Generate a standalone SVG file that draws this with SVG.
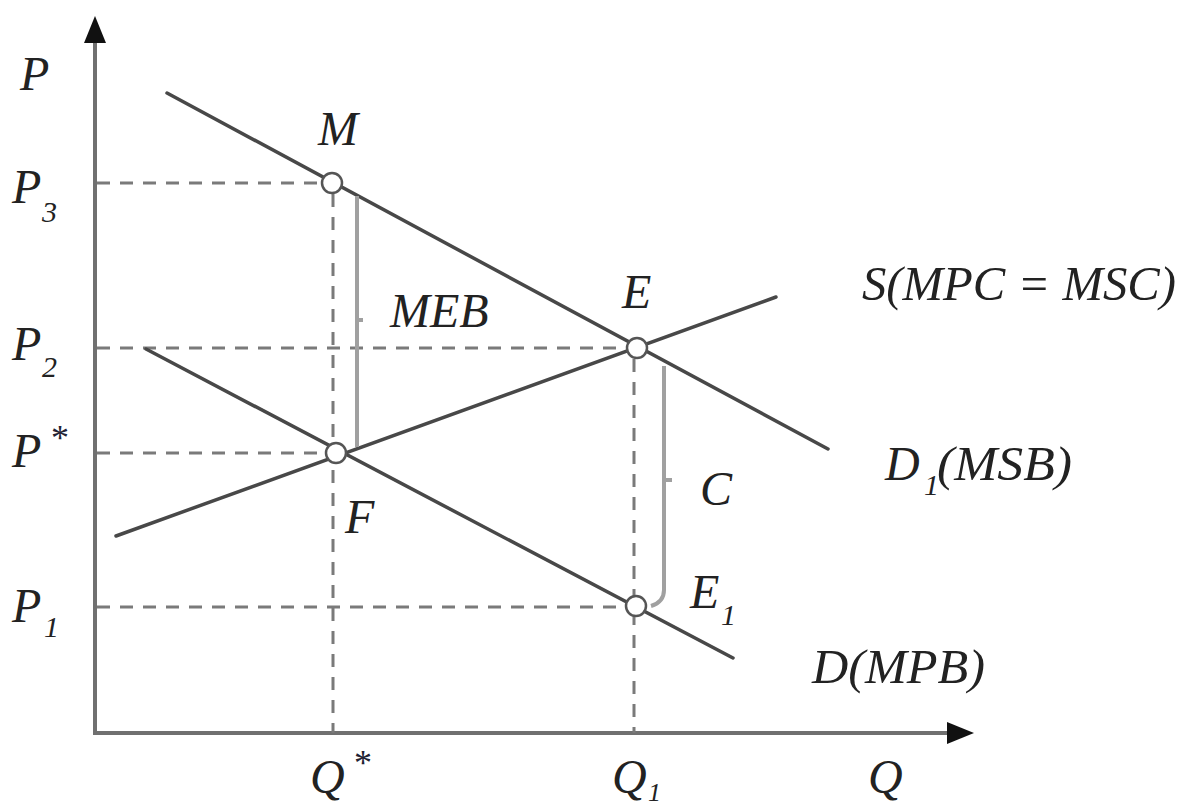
<svg xmlns="http://www.w3.org/2000/svg" width="1183" height="807" viewBox="0 0 1183 807">
<style>
  text { font-family: "Liberation Serif", "DejaVu Serif", serif; font-style: italic; fill: #222; }
  .lbl { font-size: 48px; }
  .sub { font-size: 30px; }
  .star { font-size: 36px; font-style: normal; fill: #223; text-anchor: middle; }
  .axis { stroke: #707070; stroke-width: 4; fill: none; }
  .curve { stroke: #484848; stroke-width: 3.5; fill: none; stroke-linecap: round; }
  .dash { stroke: #7a7a7a; stroke-width: 3; fill: none; stroke-dasharray: 13 10; }
  .brace { stroke: #a0a0a0; stroke-width: 4; fill: none; }
  .pt { fill: #fff; stroke: #555; stroke-width: 2.5; }
  .arrow { fill: #111; }
</style>
<rect width="1183" height="807" fill="#fff"/>

<g id="axes">
  <line class="axis" x1="95" y1="38" x2="95" y2="733"/>
  <polygon class="arrow" points="95,16 84,43 106,43"/>
  <line class="axis" x1="93" y1="733" x2="950" y2="733"/>
  <polygon class="arrow" points="974,733 947,722 947,744"/>
  <text class="lbl" x="20" y="90">P</text>
  <text class="lbl" x="868" y="793">Q</text>
</g>

<g id="connectors">
  <line class="dash" x1="97" y1="183" x2="321" y2="183"/>
  <line class="dash" x1="97" y1="348" x2="626" y2="348"/>
  <line class="dash" x1="97" y1="453" x2="324" y2="453"/>
  <line class="dash" x1="97" y1="607" x2="625" y2="607"/>
  <line class="dash" x1="333" y1="194" x2="333" y2="733"/>
  <line class="dash" x1="634" y1="359" x2="634" y2="733"/>
  <line id="D1" class="curve" x1="167" y1="93" x2="828" y2="449"/>
  <line id="D" class="curve" x1="146" y1="349" x2="733" y2="658"/>
  <line id="S" class="curve" x1="116" y1="536" x2="776" y2="297"/>
  <path class="brace" d="M357,196 L357,447 M357,320 L363,320"/>
  <path class="brace" d="M664,366 L664,590 Q664,602 651,606 M664,480 L672,480"/>
</g>

<g id="node-M">
  <circle class="pt" cx="332" cy="183" r="10"/>
  <text class="lbl" x="318" y="145">M</text>
</g>
<g id="node-E">
  <circle class="pt" cx="637" cy="348" r="10"/>
  <text class="lbl" x="622" y="308">E</text>
</g>
<g id="node-F">
  <circle class="pt" cx="336" cy="453" r="10"/>
  <text class="lbl" x="345" y="533">F</text>
</g>
<g id="node-E1">
  <circle class="pt" cx="636" cy="606" r="10"/>
  <text class="lbl" x="690" y="608">E</text>
  <text class="sub" x="721" y="625">1</text>
</g>

<g id="label-MEB"><text class="lbl" x="390" y="327">MEB</text></g>
<g id="label-C"><text class="lbl" x="700" y="505">C</text></g>

<g id="label-S"><text class="lbl" x="862" y="300" textLength="314" lengthAdjust="spacingAndGlyphs">S(MPC = MSC)</text></g>
<g id="label-D1">
  <text class="lbl" x="885" y="480">D</text>
  <text class="sub" x="924" y="495">1</text>
  <text class="lbl" x="937" y="480" textLength="135" lengthAdjust="spacingAndGlyphs">(MSB)</text>
</g>
<g id="label-D"><text class="lbl" x="812" y="683" textLength="173" lengthAdjust="spacingAndGlyphs">D(MPB)</text></g>

<g id="price-labels">
  <text class="lbl" x="12" y="203">P</text><text class="sub" x="42" y="222">3</text>
  <text class="lbl" x="12" y="360">P</text><text class="sub" x="42" y="377">2</text>
  <text class="lbl" x="12" y="467">P</text><text class="star" x="60" y="450">*</text>
  <text class="lbl" x="12" y="622">P</text><text class="sub" x="44" y="637">1</text>
</g>

<g id="quantity-labels">
  <text class="lbl" x="310" y="793">Q</text><text class="star" x="363" y="775">*</text>
  <text class="lbl" x="612" y="793">Q</text><text class="sub" x="648" y="801" style="font-size:26px">1</text>
</g>
</svg>
